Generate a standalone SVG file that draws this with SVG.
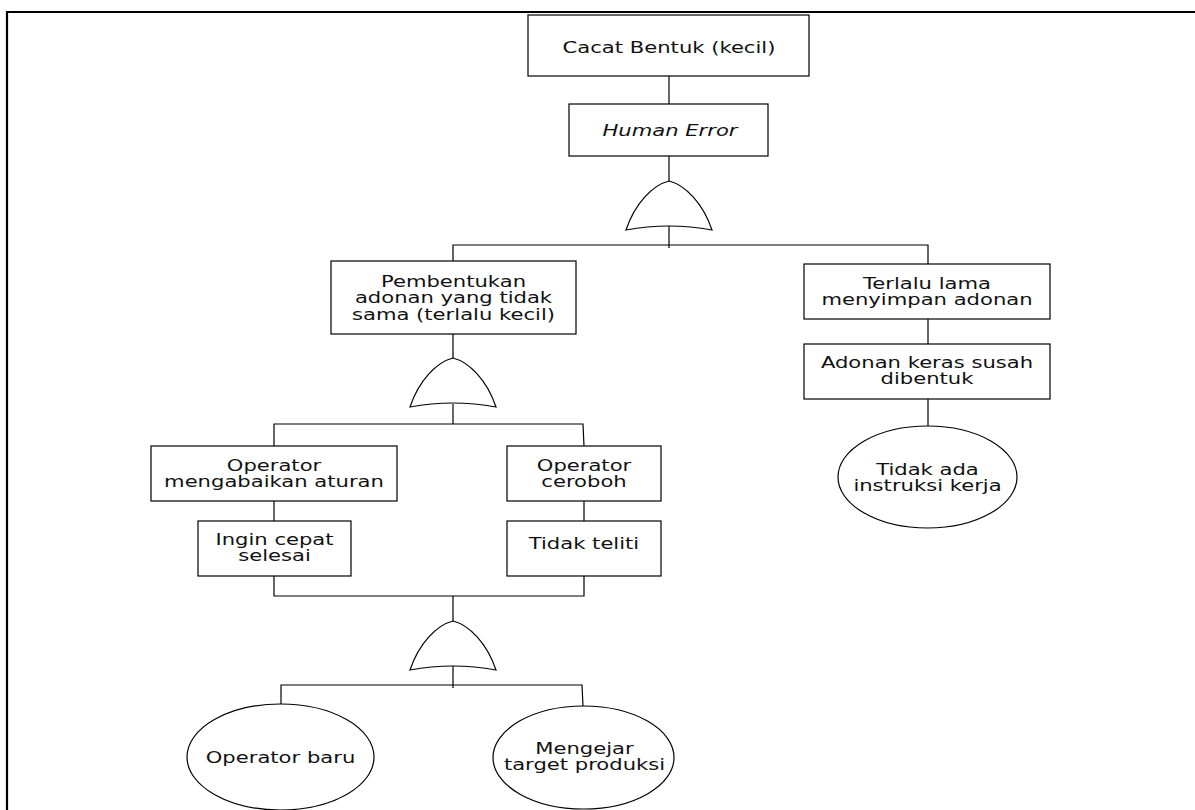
<svg xmlns="http://www.w3.org/2000/svg" width="1195" height="810" viewBox="0 0 1195 810">
<style>
.box{fill:#fff;stroke:#000;stroke-width:1.2}
.ln{fill:none;stroke:#000;stroke-width:1.2}
.gate{fill:#fff;stroke:#000;stroke-width:1.2}
.frame{fill:none;stroke:#000;stroke-width:2.2}
text{font-family:"DejaVu Sans","Verdana",sans-serif;font-size:16px;fill:#111;text-anchor:middle}
.it{font-style:italic}
</style>
<defs>
<path id="orgate" d="M -43 49 C -34 22 -16 4 0 0 C 16 4 34 22 43 49 Q 0 41 -43 49 Z"/>
</defs>
<rect width="1195" height="810" fill="#fff"/>
<path class="frame" d="M 7 810 L 7 12 L 1195 12"/>

<g id="connectors">
<path class="ln" d="M 669 76 L 669 104"/>
<path class="ln" d="M 669 156 L 669 181"/>
<path class="ln" d="M 669 226 L 669 248"/>
<path class="ln" d="M 453 261 L 453 245 L 928 245 L 928 264"/>
<path class="ln" d="M 928 319 L 928 344"/>
<path class="ln" d="M 928 399 L 928 426"/>
<path class="ln" d="M 453 334 L 453 358"/>
<path class="ln" d="M 453 404 L 453 424"/>
<path class="ln" d="M 274 446 L 274 424 L 583 424 L 584 446"/>
<path class="ln" d="M 274 501 L 274 521"/>
<path class="ln" d="M 584 501 L 584 521"/>
<path class="ln" d="M 274 576 L 274 596 L 584 596 L 584 576"/>
<path class="ln" d="M 453 596 L 453 621"/>
<path class="ln" d="M 453 666 L 453 688"/>
<path class="ln" d="M 281 704 L 281 685 L 582 685 L 583 706"/>
</g>

<g id="gate1"><use href="#orgate" class="gate" transform="translate(669 181)"/></g>
<g id="gate2"><use href="#orgate" class="gate" transform="translate(453 358)"/></g>
<g id="gate3"><use href="#orgate" class="gate" transform="translate(453 621)"/></g>

<g id="n-cacat">
<rect class="box" x="528" y="15" width="281" height="61"/>
<text transform="translate(669 53) scale(1.32 1)">Cacat Bentuk (kecil)</text>
</g>
<g id="n-human">
<rect class="box" x="569" y="104" width="199" height="52"/>
<text class="it" transform="translate(670 136) scale(1.32 1)">Human Error</text>
</g>
<g id="n-pembentukan">
<rect class="box" x="331" y="261" width="245" height="73"/>
<text transform="translate(453.5 0) scale(1.32 1)"><tspan x="0" y="287">Pembentukan</tspan><tspan x="0" y="303.5">adonan yang tidak</tspan><tspan x="0" y="320">sama (terlalu kecil)</tspan></text>
</g>
<g id="n-terlalu">
<rect class="box" x="804" y="264" width="246" height="55"/>
<text transform="translate(927 0) scale(1.32 1)"><tspan x="0" y="289">Terlalu lama</tspan><tspan x="0" y="305.5">menyimpan adonan</tspan></text>
</g>
<g id="n-adonan">
<rect class="box" x="804" y="344" width="246" height="55"/>
<text transform="translate(927 0) scale(1.32 1)"><tspan x="0" y="368">Adonan keras susah</tspan><tspan x="0" y="384">dibentuk</tspan></text>
</g>
<g id="n-instruksi">
<ellipse class="box" cx="927.5" cy="477" rx="89.5" ry="51"/>
<text transform="translate(927.5 0) scale(1.32 1)"><tspan x="0" y="475">Tidak ada</tspan><tspan x="0" y="491">instruksi kerja</tspan></text>
</g>
<g id="n-mengabaikan">
<rect class="box" x="151" y="446" width="246" height="55"/>
<text transform="translate(274 0) scale(1.32 1)"><tspan x="0" y="471">Operator</tspan><tspan x="0" y="487">mengabaikan aturan</tspan></text>
</g>
<g id="n-ceroboh">
<rect class="box" x="507" y="446" width="154" height="55"/>
<text transform="translate(584 0) scale(1.32 1)"><tspan x="0" y="471">Operator</tspan><tspan x="0" y="487">ceroboh</tspan></text>
</g>
<g id="n-ingin">
<rect class="box" x="198" y="521" width="153" height="55"/>
<text transform="translate(274.5 0) scale(1.32 1)"><tspan x="0" y="545">Ingin cepat</tspan><tspan x="0" y="561">selesai</tspan></text>
</g>
<g id="n-teliti">
<rect class="box" x="507" y="521" width="154" height="55"/>
<text transform="translate(584 549) scale(1.32 1)">Tidak teliti</text>
</g>
<g id="n-baru">
<ellipse class="box" cx="280.5" cy="757" rx="93.5" ry="53"/>
<text transform="translate(280.5 763) scale(1.32 1)">Operator baru</text>
</g>
<g id="n-target">
<ellipse class="box" cx="583.5" cy="757.5" rx="90.5" ry="51.5"/>
<text transform="translate(584.5 0) scale(1.32 1)"><tspan x="0" y="754">Mengejar</tspan><tspan x="0" y="770">target produksi</tspan></text>
</g>
</svg>
